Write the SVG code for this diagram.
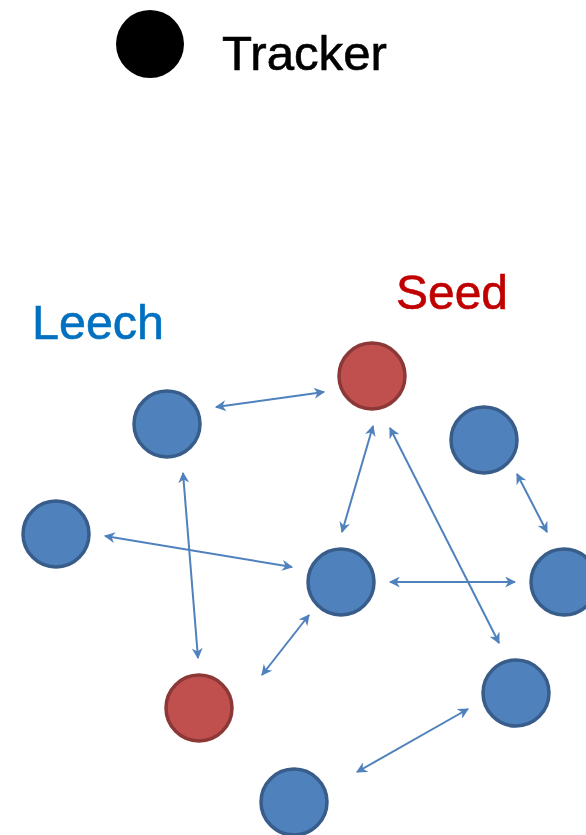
<svg xmlns="http://www.w3.org/2000/svg" width="586" height="835" viewBox="0 0 586 835">
<defs>
<style>
.lbl{font-family:"Liberation Sans",Arial,sans-serif;font-size:49px;stroke-width:0.6px}
.blue{fill:#4F81BD;stroke:#385D8A;stroke-width:3.5}
.red{fill:#C0504D;stroke:#8C3836;stroke-width:3.5}
.con{stroke:#4F81BD;stroke-width:2;fill:none;marker-start:url(#ah);marker-end:url(#ah)}
</style>
<marker id="ah" viewBox="0 0 10 10" refX="9" refY="5" markerWidth="5.5" markerHeight="5.5" orient="auto-start-reverse" markerUnits="strokeWidth">
<path d="M0,0 L10,5 L0,10 L3,5 Z" fill="#4F81BD"/>
</marker>
</defs>
<rect width="586" height="835" fill="#fff"/>
<g id="tracker">
<circle cx="150" cy="44" r="34" fill="#000"/>
<text class="lbl" x="222" y="70" fill="#000" stroke="#000" textLength="165" lengthAdjust="spacingAndGlyphs">Tracker</text>
</g>
<g id="label-leech"><text class="lbl" x="32" y="339" fill="#0070C0" stroke="#0070C0" textLength="132" lengthAdjust="spacingAndGlyphs">Leech</text></g>
<g id="label-seed"><text class="lbl" x="396" y="309" fill="#C00000" stroke="#C00000" textLength="112" lengthAdjust="spacingAndGlyphs">Seed</text></g>
<g id="connectors">
<line class="con" x1="216" y1="407" x2="324" y2="392"/>
<line class="con" x1="373" y1="426" x2="342" y2="532"/>
<line class="con" x1="390" y1="428" x2="499" y2="643"/>
<line class="con" x1="517" y1="474" x2="547" y2="532"/>
<line class="con" x1="105" y1="536" x2="292" y2="567"/>
<line class="con" x1="183" y1="473" x2="198" y2="658"/>
<line class="con" x1="390" y1="582" x2="515" y2="582"/>
<line class="con" x1="309" y1="615" x2="262" y2="675"/>
<line class="con" x1="468" y1="709" x2="357" y2="772"/>
</g>
<g id="seed-top"><circle class="red" cx="372" cy="376" r="33"/></g>
<g id="peer-b"><circle class="blue" cx="167" cy="424" r="33"/></g>
<g id="peer-c"><circle class="blue" cx="484" cy="440" r="33"/></g>
<g id="peer-d"><circle class="blue" cx="56" cy="534" r="33"/></g>
<g id="peer-e"><circle class="blue" cx="341" cy="582" r="33"/></g>
<g id="peer-f"><circle class="blue" cx="564" cy="582" r="33"/></g>
<g id="seed-bottom"><circle class="red" cx="199" cy="708" r="33"/></g>
<g id="peer-h"><circle class="blue" cx="516" cy="693" r="33"/></g>
<g id="peer-i"><circle class="blue" cx="294" cy="802" r="33"/></g>
</svg>
